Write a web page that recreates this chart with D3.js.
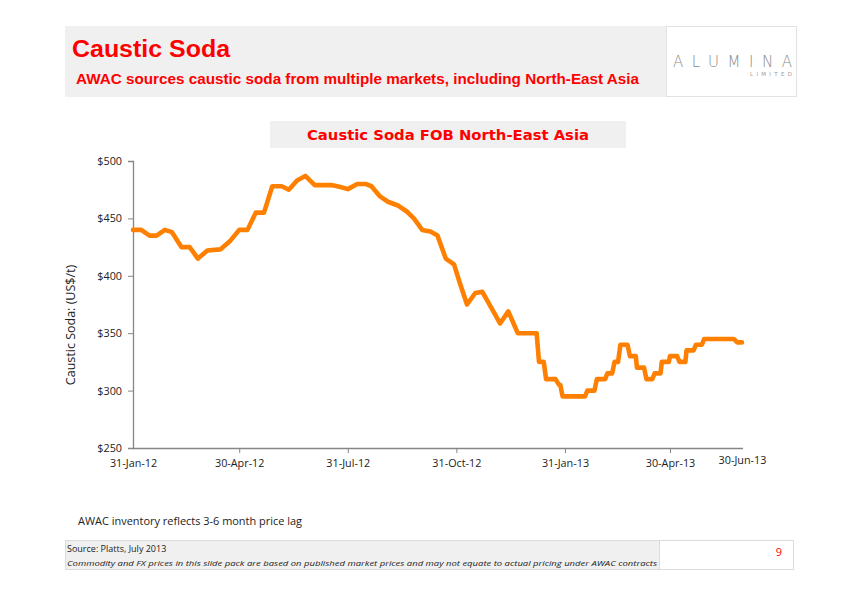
<!DOCTYPE html>
<html><head><meta charset="utf-8">
<script src="https://cdn.jsdelivr.net/npm/d3@7/dist/d3.min.js"></script>
<style>body{margin:0;background:#fff}svg{display:block}</style>
</head><body>
<svg id="c" width="864" height="589"></svg>
<script>
const dates = ["2012-01-31","2012-02-07","2012-02-14","2012-02-20","2012-02-27","2012-03-04","2012-03-12","2012-03-19","2012-03-26","2012-04-03","2012-04-14","2012-04-22","2012-04-30","2012-05-07","2012-05-14","2012-05-21","2012-05-28","2012-06-05","2012-06-11","2012-06-18","2012-06-25","2012-07-03","2012-07-17","2012-07-24","2012-07-31","2012-08-08","2012-08-15","2012-08-20","2012-08-27","2012-09-03","2012-09-12","2012-09-19","2012-09-25","2012-10-02","2012-10-09","2012-10-15","2012-10-22","2012-10-29","2012-11-03","2012-11-09","2012-11-16","2012-11-22","2012-11-30","2012-12-07","2012-12-14","2012-12-22","2013-01-07","2013-01-09","2013-01-13","2013-01-15","2013-01-23","2013-01-26","2013-01-27","2013-01-29","2013-02-17","2013-02-19","2013-02-25","2013-02-27","2013-03-06","2013-03-08","2013-03-12","2013-03-14","2013-03-17","2013-03-19","2013-03-25","2013-03-27","2013-04-01","2013-04-02","2013-04-08","2013-04-10","2013-04-15","2013-04-17","2013-04-22","2013-04-23","2013-04-29","2013-04-30","2013-05-06","2013-05-08","2013-05-13","2013-05-14","2013-05-20","2013-05-22","2013-05-27","2013-05-29","2013-06-23","2013-06-26","2013-06-30"];
const prices = [440,440,435,435,440,438,425,425,415,422,423,430,440,440,455,455,478,478,475,483,487,479,479,477.5,475.5,480,480,478,469.5,464.5,461,456,450,440,438.5,435,415,410,393.5,375,385,386,371.5,358.5,369,350,350,325,325,310,310,305,305,295,295,300,300,310,310,315,315,325,325,340,340,330,330,320,320,310,310,315,315,325,325,330,330,325,325,335,335,340,340,345,345,342,342];
const xTickDates = ["2012-01-31","2012-04-30","2012-07-31","2012-10-31","2013-01-31","2013-04-30","2013-06-30"];
const xTickLabels = ["31-Jan-12","30-Apr-12","31-Jul-12","31-Oct-12","31-Jan-13","30-Apr-13","30-Jun-13"];
const yTicks = [250,300,350,400,450,500];

const parse = d3.timeParse("%Y-%m-%d");
const data = dates.map((d,i)=>({date:parse(d), v:prices[i]}));
const svg = d3.select("#c");
const red = "#ff0000";

// header
svg.append("rect").attr("x",65).attr("y",26).attr("width",601).attr("height",71).attr("fill","#f0f0f0");
svg.append("rect").attr("x",666.5).attr("y",26.5).attr("width",130).attr("height",70).attr("fill","#fff").attr("stroke","#e2e2e2");
svg.append("text").attr("x",72).attr("y",57).attr("fill",red).attr("font-family","Liberation Sans, Arial, sans-serif").attr("font-weight","bold").attr("font-size",23.5).attr("textLength",158).attr("lengthAdjust","spacingAndGlyphs").text("Caustic Soda");
svg.append("text").attr("x",76).attr("y",84).attr("fill",red).attr("font-family","Liberation Sans Narrow, Liberation Sans, sans-serif").attr("font-weight","bold").attr("font-size",15.5).attr("textLength",563).attr("lengthAdjust","spacingAndGlyphs").text("AWAC sources caustic soda from multiple markets, including North-East Asia");
svg.append("text").attr("x",673).attr("y",67).attr("fill","#8a8a8a").attr("font-family","DejaVu Sans, sans-serif").attr("font-weight","200").attr("font-size",15).attr("textLength",119).attr("lengthAdjust","spacing").text("ALUMINA");
svg.append("text").attr("x",750).attr("y",76).attr("fill","#9a9a9a").attr("font-family","DejaVu Sans, sans-serif").attr("font-size",5.5).attr("textLength",42).attr("lengthAdjust","spacing").text("LIMITED");

// chart title
svg.append("rect").attr("x",270).attr("y",121).attr("width",356).attr("height",27).attr("fill","#f0f0f0");
svg.append("text").attr("x",448).attr("y",140).attr("text-anchor","middle").attr("fill",red).attr("font-family","DejaVu Sans, Verdana, sans-serif").attr("font-weight","bold").attr("font-size",14.5).attr("textLength",282).attr("lengthAdjust","spacingAndGlyphs").text("Caustic Soda FOB North-East Asia");

// scales
const x = d3.scaleTime().domain([parse("2012-01-31"), parse("2013-06-30")]).range([133,742]);
const y = d3.scaleLinear().domain([250,500]).range([448,161]);

const axisColor = "#868686";
const tickFont = "Open Sans, Liberation Sans, sans-serif";

// y axis
const ya = svg.append("g").attr("transform","translate(133,0)")
  .call(d3.axisLeft(y).tickValues(yTicks).tickSize(5).tickPadding(6).tickFormat(d=>"$"+d));
ya.select(".domain").attr("stroke",axisColor).attr("stroke-width",1.3);
ya.selectAll(".tick line").attr("stroke",axisColor);
ya.selectAll("text").attr("font-family",tickFont).attr("font-size",10.8).attr("fill","#222");

// x axis
const xa = svg.append("g").attr("transform","translate(0,448)")
  .call(d3.axisBottom(x).tickValues(xTickDates.map(parse)).tickSize(5).tickPadding(6).tickFormat((d,i)=>xTickLabels[i]));
xa.select(".domain").attr("stroke",axisColor).attr("stroke-width",1.3).attr("d","M133,0.5H743");
xa.selectAll(".tick line").attr("stroke",axisColor).filter((d,i)=>i===0||i===6).remove();
xa.selectAll("text").attr("font-family",tickFont).attr("font-size",10.8).attr("fill","#222");
xa.selectAll(".tick").filter((d,i)=>i===6).select("text").attr("dy","0.5em");

// y title
svg.append("text").attr("transform","translate(75,325) rotate(-90)").attr("text-anchor","middle").attr("font-family",tickFont).attr("font-size",12.5).attr("fill","#222").text("Caustic Soda: (US$/t)");

// line
const line = d3.line().x(d=>x(d.date)).y(d=>y(d.v));
svg.append("path").datum(data).attr("d",line).attr("fill","none").attr("stroke","#ff8000").attr("stroke-width",4.6).attr("stroke-linejoin","round").attr("stroke-linecap","round");

// notes
svg.append("text").attr("x",78).attr("y",525).attr("font-family",tickFont).attr("font-size",10.8).attr("fill","#222").attr("textLength",224).attr("lengthAdjust","spacingAndGlyphs").text("AWAC inventory reflects 3-6 month price lag");

// footer
svg.append("rect").attr("x",65.5).attr("y",540.5).attr("width",594).attr("height",29).attr("fill","#f0f0f0").attr("stroke","#dcdcdc");
svg.append("rect").attr("x",659.5).attr("y",540.5).attr("width",134).attr("height",29).attr("fill","#fff").attr("stroke","#dcdcdc");
svg.append("text").attr("x",67).attr("y",552).attr("font-family",tickFont).attr("font-size",9).attr("fill","#222").text("Source: Platts, July 2013");
svg.append("text").attr("x",67).attr("y",566).attr("font-family",tickFont).attr("font-style","italic").attr("font-size",8).attr("fill","#222").attr("textLength",590).attr("lengthAdjust","spacingAndGlyphs").text("Commodity and FX prices in this slide pack are based on published market prices and may not equate to actual pricing under AWAC contracts");
svg.append("text").attr("x",782).attr("y",556).attr("text-anchor","end").attr("font-family",tickFont).attr("font-size",11).attr("fill",red).text("9");
</script>
</body></html>
